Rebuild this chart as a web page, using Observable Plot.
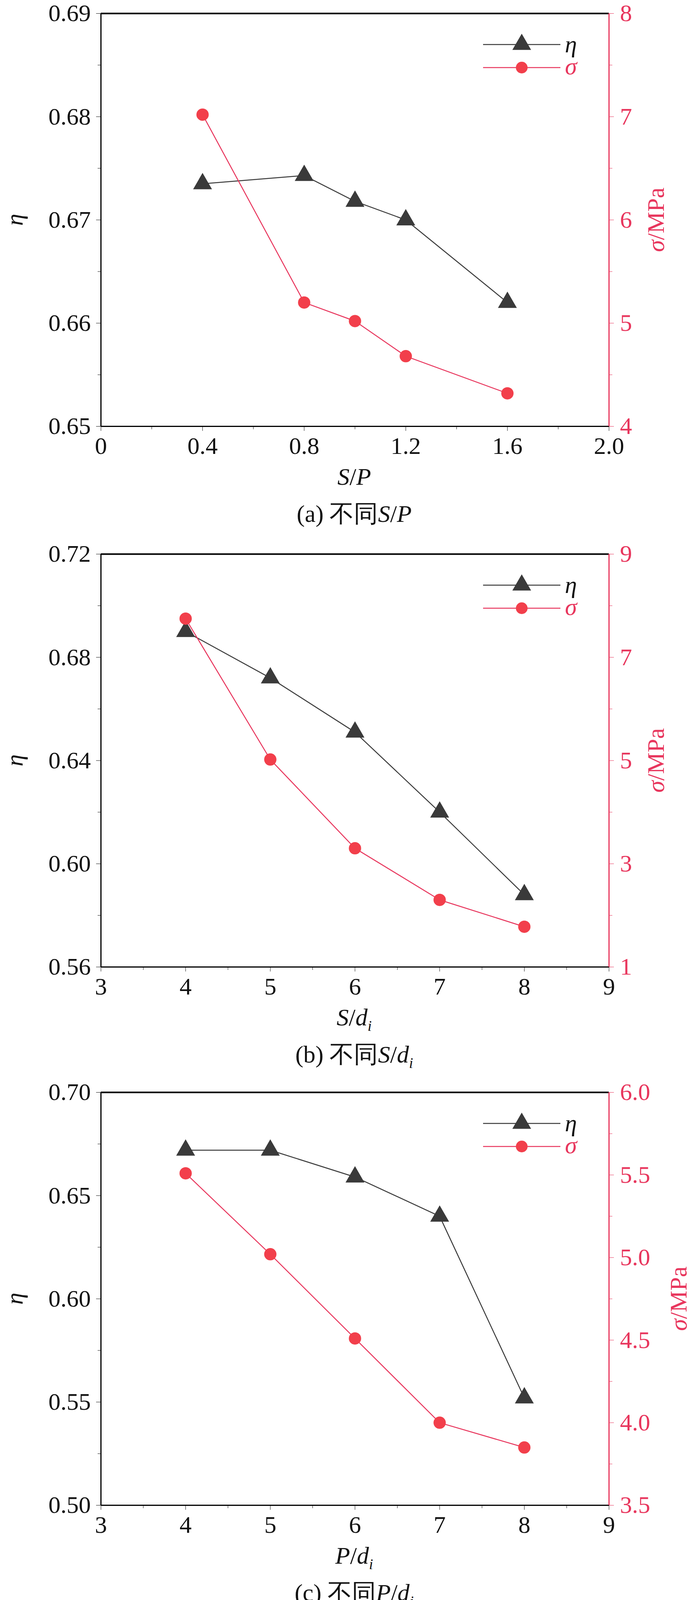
<!DOCTYPE html>
<html><head><meta charset="utf-8">
<script src="https://cdn.jsdelivr.net/npm/d3@7"></script>
<script src="https://cdn.jsdelivr.net/npm/@observablehq/plot@0.6"></script>
<style>body{margin:0;background:#fff}#wrap{position:relative;width:1772px;height:4146px}.p{position:absolute;left:0}</style>
</head><body><div id="wrap"></div>
<script>
// Panel (a)
const xA = [0.4, 0.8, 1.0, 1.2, 1.6];
const etaA = [0.6735, 0.6743, 0.6718, 0.6700, 0.6620];
const sigA = [7.02, 5.20, 5.02, 4.68, 4.32];
// Panel (b)
const xB = [4, 5, 6, 7, 8];
const etaB = [0.690, 0.672, 0.651, 0.620, 0.588];
const sigB = [7.75, 5.02, 3.30, 2.30, 1.78];
// Panel (c)
const xC = [4, 5, 6, 7, 8];
const etaC = [0.672, 0.672, 0.659, 0.640, 0.552];
const sigC = [5.51, 5.02, 4.51, 4.00, 3.85];

const RED = "#e8365d", DOT = "#f23f4b", DARK = "#3a3a3a";
const panels = [
  {x:xA, eta:etaA, sig:sigA, xd:[0,2], xt:[0,0.4,0.8,1.2,1.6,2.0], xf:d=>d===0?"0":d.toFixed(1), xm:[0.2,0.6,1.0,1.4,1.8],
   ed:[0.65,0.69], et:[0.65,0.66,0.67,0.68,0.69], em:[0.655,0.665,0.675,0.685], ef:2,
   sd:[4,8], st:[4,5,6,7,8], sm:[4.5,5.5,6.5,7.5], sf:0, rx:1700,
   xl:[["S",1],["/",0],["P",1]], cap:[["(a) 不同",0],["S",1],["/",0],["P",1]], top:0},
  {x:xB, eta:etaB, sig:sigB, xd:[3,9], xt:[3,4,5,6,7,8,9], xf:d=>String(d), xm:[3.5,4.5,5.5,6.5,7.5,8.5],
   ed:[0.56,0.72], et:[0.56,0.60,0.64,0.68,0.72], em:[0.58,0.62,0.66,0.70], ef:2,
   sd:[1,9], st:[1,3,5,7,9], sm:[2,4,6,8], sf:0, rx:1700,
   xl:[["S",1],["/",0],["d",1],["i",2]], cap:[["(b) 不同",0],["S",1],["/",0],["d",1],["i",2]], top:1384},
  {x:xC, eta:etaC, sig:sigC, xd:[3,9], xt:[3,4,5,6,7,8,9], xf:d=>String(d), xm:[3.5,4.5,5.5,6.5,7.5,8.5],
   ed:[0.50,0.70], et:[0.50,0.55,0.60,0.65,0.70], em:[0.525,0.575,0.625,0.675], ef:2,
   sd:[3.5,6.0], st:[3.5,4.0,4.5,5.0,5.5,6.0], sm:[3.75,4.25,4.75,5.25,5.75], sf:1, rx:1758,
   xl:[["P",1],["/",0],["d",1],["i",2]], cap:[["(c) 不同",0],["P",1],["/",0],["d",1],["i",2]], top:2762}
];

function addRich(sel, parts, size){
  parts.forEach(([t,k])=>{
    const ts = sel.append("tspan").text(t);
    if(k>=1) ts.attr("font-style","italic");
    if(k===2) ts.attr("font-size", size*0.62).attr("dy", 14);
  });
}
const blank = () => "";

for (const P of panels){
  const [lo,hi] = P.ed, [slo,shi] = P.sd;
  const m = s => lo + (s - slo)/(shi - slo)*(hi - lo);
  const inv = v => slo + (v - lo)/(hi - lo)*(shi - slo);
  const data = P.x.map((x,i)=>({x, eta:P.eta[i], s:m(P.sig[i])}));
  const fs = 62;
  const plot = Plot.plot({
    width:1772, height:1384, marginTop:34, marginBottom:293, marginLeft:258, marginRight:213,
    style:{fontFamily:"Liberation Serif", fontSize:fs+"px", background:"#fff", color:"#111"},
    x:{domain:P.xd}, y:{domain:P.ed},
    marks:[
      Plot.axisX({ticks:P.xt, tickFormat:P.xf, tickSize:12, tickPadding:14, label:null}),
      Plot.axisX({ticks:P.xm, tickFormat:blank, tickSize:8, label:null}),
      Plot.axisY({ticks:P.et, tickFormat:d=>d.toFixed(P.ef), tickSize:12, tickPadding:14, label:null}),
      Plot.axisY({ticks:P.em, tickFormat:blank, tickSize:8, label:null}),
      Plot.axisY({anchor:"right", ticks:P.st.map(m), tickFormat:v=>inv(v).toFixed(P.sf), tickSize:12, tickPadding:16, label:null, color:RED, stroke:RED}),
      Plot.axisY({anchor:"right", ticks:P.sm.map(m), tickFormat:blank, tickSize:8, label:null, stroke:RED}),
      Plot.ruleY([lo], {stroke:"#000", strokeWidth:3}),
      Plot.ruleY([hi], {stroke:"#000", strokeWidth:4}),
      Plot.ruleX([P.xd[0]], {stroke:"#000", strokeWidth:3}),
      Plot.ruleX([P.xd[1]], {stroke:RED, strokeWidth:3}),
      Plot.line(data, {x:"x", y:"eta", stroke:DARK, strokeWidth:2.5}),
      Plot.dot(data, {x:"x", y:"eta", symbol:"triangle", r:17, fill:DARK, stroke:DARK}),
      Plot.line(data, {x:"x", y:"s", stroke:RED, strokeWidth:2.5}),
      Plot.dot(data, {x:"x", y:"s", r:15, fill:DOT, stroke:DOT})
    ]
  });
  const svg = d3.select(plot);
  const fb = 1384-293, ft = 34;
  const sym = d3.symbol().type(d3.symbolTriangle).size(1000)();
  const g = svg.append("g");
  g.append("line").attr("x1",1237).attr("x2",1435).attr("y1",ft+80).attr("y2",ft+80).attr("stroke",DARK).attr("stroke-width",2.5);
  g.append("path").attr("d",sym).attr("transform",`translate(1336,${ft+80})`).attr("fill",DARK);
  g.append("text").attr("x",1462).attr("y",ft+100).attr("font-style","italic").attr("font-size",fs).attr("fill","#111").text("η");
  g.append("line").attr("x1",1237).attr("x2",1435).attr("y1",ft+139).attr("y2",ft+139).attr("stroke",RED).attr("stroke-width",2.5);
  g.append("circle").attr("cx",1336).attr("cy",ft+139).attr("r",15).attr("fill",DOT);
  g.append("text").attr("x",1462).attr("y",ft+156).attr("font-style","italic").attr("font-size",fs).attr("fill",RED).text("σ");
  const xl = svg.append("text").attr("x",907).attr("y",fb+150).attr("text-anchor","middle").attr("font-size",fs).attr("fill","#111");
  addRich(xl, P.xl, fs);
  const cap = svg.append("text").attr("x",907).attr("y",fb+245).attr("text-anchor","middle").attr("font-size",fs).attr("fill","#111");
  addRich(cap, P.cap, fs);
  svg.append("text").attr("transform",`translate(58,${(ft+fb)/2}) rotate(-90)`).attr("text-anchor","middle").attr("font-style","italic").attr("font-size",fs).attr("fill","#111").text("η");
  const rl = svg.append("text").attr("transform",`translate(${P.rx},${(ft+fb)/2}) rotate(-90)`).attr("text-anchor","middle").attr("font-size",fs).attr("fill",RED);
  rl.append("tspan").attr("font-style","italic").text("σ");
  rl.append("tspan").text("/MPa");
  const div = document.createElement("div");
  div.className="p"; div.style.top = P.top+"px";
  div.appendChild(plot);
  document.getElementById("wrap").appendChild(div);
}
</script></body></html>
